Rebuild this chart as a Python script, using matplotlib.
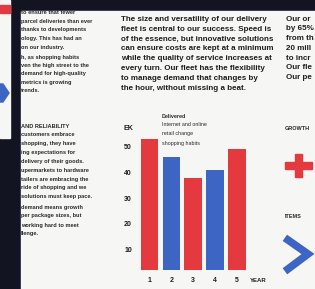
import matplotlib
matplotlib.use("Agg")
import matplotlib.pyplot as plt
from matplotlib.patches import Rectangle, Polygon
from matplotlib.lines import Line2D

# ---- data ----
years = ["1", "2", "3", "4", "5"]
values = [53, 46, 38, 41, 49]
bar_colors = ["#e43a3f", "#3d66c4", "#e43a3f", "#3d66c4", "#e43a3f"]
yticks = [10, 20, 30, 40, 50]
y_unit = "EK"
x_unit = "YEAR"
legend_lines = ["Delivered", "Internet and online", "retail change", "shopping habits"]

mid_text = [
    "The size and versatility of our delivery",
    "fleet is central to our success. Speed is",
    "of the essence, but innovative solutions",
    "can ensure costs are kept at a minimum",
    "while the quality of service increases at",
    "every turn. Our fleet has the flexibility",
    "to manage demand that changes by",
    "the hour, without missing a beat.",
]
right_text = ["Our or", "by 65%", "from th", "20 mill", "to incr", "Our fle", "Our pe"]
left_text_1 = ["to ensure that fewer", "parcel deliveries than ever", "thanks to developments",
               "ology. This has had an", "on our industry."]
left_text_2 = ["h, as shopping habits", "ven the high street to the", "demand for high-quality",
               "metrics is growing", "trends."]
left_head = "AND RELIABILITY"
left_text_3 = ["customers embrace", "shopping, they have", "ing expectations for",
               "delivery of their goods.", "upermarkets to hardware", "tailers are embracing the",
               "ride of shopping and we", "solutions must keep pace."]
left_text_4 = ["demand means growth", "per package sizes, but", "working hard to meet", "llenge."]

W, H = 315, 289
fig = plt.figure(figsize=(W / 100, H / 100), dpi=100)
fig.patch.set_facecolor("#121422")

bg = fig.add_axes([0, 0, 1, 1])
bg.set_xlim(0, W)
bg.set_ylim(H, 0)
bg.axis("off")

DARK = "#121422"
PAGE = "#f6f6f4"
TXT = "#2a2a2a"
FONT = ["Liberation Sans", "DejaVu Sans"]

bg.add_patch(Rectangle((0, 0), W, H, color=DARK, zorder=0))
bg.add_patch(Rectangle((0, 0), 10, 138, color=PAGE, zorder=1))
bg.add_patch(Rectangle((0, 5), 10, 8, color="#e43a3f", zorder=2))
bg.add_patch(Polygon([(0, 84), (3, 84), (9, 93), (3, 102), (0, 102)], closed=True,
                     color="#3d66c4", zorder=2))
bg.add_patch(Rectangle((21, 11), W - 21, H - 11, color=PAGE, zorder=1))


def lines(x, y0, step, items, size=4.1, weight="normal", color=TXT):
    for i, t in enumerate(items):
        bg.text(x, y0 + i * step, t, fontsize=size, fontweight=weight, color=color,
                family=FONT, va="center", ha="left", zorder=3, clip_on=True)


lines(21, 13, 8.5, left_text_1, weight="bold")
lines(21, 57, 8.5, left_text_2, weight="bold")
bg.text(21, 126, left_head, fontsize=4.1, fontweight="bold", color=TXT, family=FONT,
        va="center", ha="left", zorder=3)
lines(21, 135, 8.8, left_text_3, weight="bold")
lines(21, 207, 9.0, left_text_4, weight="bold")

lines(121, 19.3, 9.85, mid_text, size=5.8, weight="bold", color="#1e1e1e")
lines(286, 19.3, 9.7, right_text, size=5.8, weight="bold", color="#1e1e1e")

bg.text(285, 129, "GROWTH", fontsize=4.0, fontweight="bold", color=TXT, family=FONT,
        va="center", ha="left", zorder=3)
bg.add_patch(Rectangle((285, 161.5), 27, 7, color="#e43a3f", zorder=3))
bg.add_patch(Rectangle((294.5, 154), 7, 23, color="#e43a3f", zorder=3))
bg.text(285, 216, "ITEMS", fontsize=4.0, fontweight="bold", color=TXT, family=FONT,
        va="center", ha="left", zorder=3)
bg.add_line(Line2D([288, 308, 288], [240, 254, 269], color="#3d66c4", lw=5.5,
                   solid_joinstyle="miter", zorder=3))

# ---- bar chart ----
x0_px, step_px = 149.5, 21.85
left_px = x0_px - 0.6 * step_px
right_px = x0_px + 4.6 * step_px
ymin, ymax = 2, 57
px_per = 2.565
bottom_px = 275 - px_per * ymin
top_px = 275 - px_per * ymax

ax = fig.add_axes([left_px / W, (H - bottom_px) / H, (right_px - left_px) / W,
                   (bottom_px - top_px) / H], zorder=5)
ax.patch.set_alpha(0)
xs = list(range(1, len(years) + 1))
ax.bar(xs, values, width=0.8, color=bar_colors)
ax.set_xlim(0.4, 5.6)
ax.set_ylim(ymin, ymax)
ax.set_xticks(xs)
ax.set_xticklabels(years)
ax.set_yticks(yticks)
ax.set_yticklabels([str(v) for v in yticks])
for s in ax.spines.values():
    s.set_visible(False)
ax.tick_params(length=0, labelsize=5, colors="#1e1e1e")
ax.tick_params(axis="y", pad=3.2)
ax.tick_params(axis="x", pad=5.0)
for lab in ax.get_xticklabels() + ax.get_yticklabels():
    lab.set_fontweight("bold")
    lab.set_family(FONT)

bg.text(128, 129, y_unit, fontsize=5, fontweight="bold", color="#1e1e1e", family=FONT,
        ha="center", va="center", zorder=6)
bg.text(250, 280, x_unit, fontsize=4.3, fontweight="bold", color="#1e1e1e", family=FONT,
        ha="left", va="center", zorder=6)
bg.text(161.5, 116, legend_lines[0], fontsize=3.9, fontweight="bold", color=TXT,
        family=FONT, ha="left", va="center", zorder=6)
for i, t in enumerate(legend_lines[1:]):
    bg.text(161.5, 125 + i * 9, t, fontsize=3.9, color=TXT, family=FONT,
            ha="left", va="center", zorder=6)

fig.savefig("out.png", dpi=100, facecolor=fig.get_facecolor())
